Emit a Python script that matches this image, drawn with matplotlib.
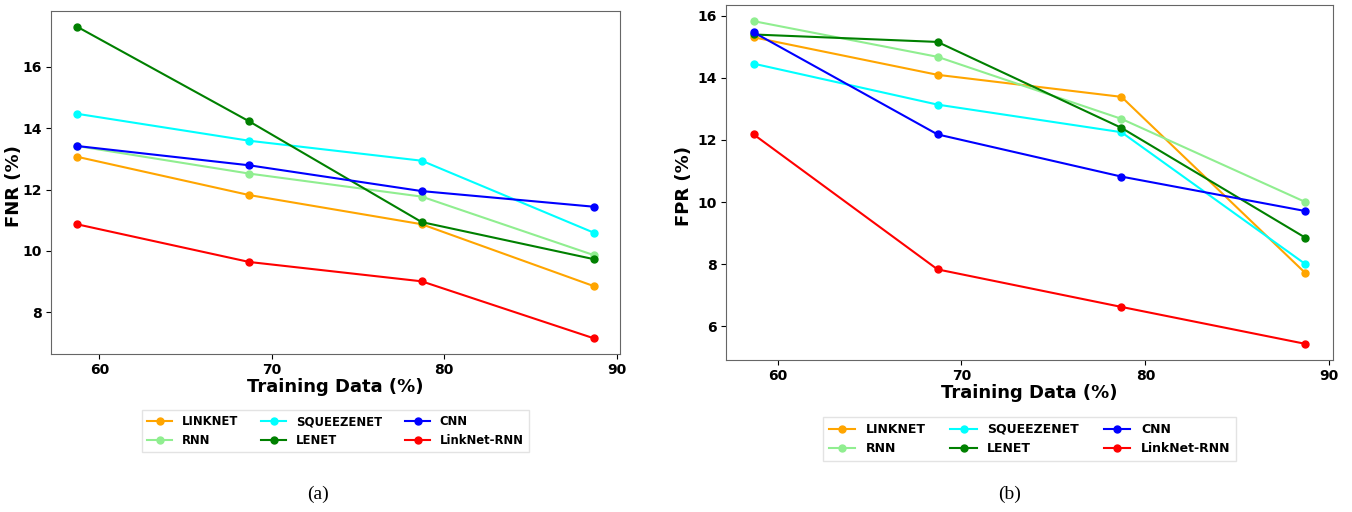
import matplotlib
matplotlib.use("Agg")
import matplotlib.pyplot as plt
from matplotlib.transforms import blended_transform_factory

W, H = 1352, 512

# training data share (%)
train_pct = [58.7, 68.7, 78.7, 88.7]
models = ["LINKNET", "RNN", "SQUEEZENET", "LENET", "CNN", "LinkNet-RNN"]
colors = ["orange", "lightgreen", "cyan", "green", "blue", "red"]

# (a) FNR
fnr_linknet = [13.07, 11.82, 10.87, 8.85]
fnr_rnn = [13.42, 12.52, 11.77, 9.86]
fnr_squeezenet = [14.47, 13.59, 12.94, 10.59]
fnr_lenet = [17.31, 14.22, 10.94, 9.73]
fnr_cnn = [13.42, 12.79, 11.95, 11.44]
fnr_linknet_rnn = [10.87, 9.64, 9.01, 7.15]

# (b) FPR
fpr_linknet = [15.31, 14.10, 13.39, 7.71]
fpr_rnn = [15.83, 14.68, 12.68, 10.00]
fpr_squeezenet = [14.46, 13.14, 12.25, 8.00]
fpr_lenet = [15.40, 15.16, 12.39, 8.85]
fpr_cnn = [15.47, 12.18, 10.82, 9.71]
fpr_linknet_rnn = [12.18, 7.83, 6.62, 5.43]

fnr = [fnr_linknet, fnr_rnn, fnr_squeezenet, fnr_lenet, fnr_cnn, fnr_linknet_rnn]
fpr = [fpr_linknet, fpr_rnn, fpr_squeezenet, fpr_lenet, fpr_cnn, fpr_linknet_rnn]


def box(l, t, r, b):
    return [l / W, 1 - b / H, (r - l) / W, (b - t) / H]


fig = plt.figure(figsize=(W / 100, H / 100), dpi=100)
ax1 = fig.add_axes(box(51, 11, 620, 354))
ax2 = fig.add_axes(box(726, 5, 1333, 360))


def draw(ax, series, ylabel, leg_y, ylab_x, leg_size):
    for name, c, vals in zip(models, colors, series):
        ax.plot(train_pct, vals, color=c, marker="o", markersize=5, linewidth=1.5, label=name)
    ax.set_xticks([60, 70, 80, 90])
    ax.tick_params(labelsize=10, pad=3, length=3.5)
    ax.set_xlabel("Training Data (%)", fontsize=13, fontweight="bold", labelpad=1)
    ax.set_ylabel(ylabel, fontsize=13, fontweight="bold")
    pos = ax.get_position()
    ax.yaxis.set_label_coords((ylab_x - pos.x0 * W) / (pos.width * W), 0.49)
    for lbl in ax.get_xticklabels() + ax.get_yticklabels():
        lbl.set_fontweight("bold")
    for s in ax.spines.values():
        s.set_color("#666666")
    # legend centred under the axes, vertical position in figure pixels
    trans = blended_transform_factory(ax.transAxes, fig.transFigure)
    leg = ax.legend(ncol=3, loc="center", bbox_to_anchor=(0.5, 1 - leg_y / H),
                    bbox_transform=trans, prop={"weight": "bold", "size": leg_size},
                    handlelength=2.1, handletextpad=0.85, columnspacing=2.0,
                    labelspacing=0.5, borderpad=0.45, fancybox=False)
    leg.get_frame().set_edgecolor("#dddddd")


draw(ax1, fnr, "FNR (%)", 431, 23, 8.4)
draw(ax2, fpr, "FPR (%)", 439, 693, 9.0)

fig.text(318 / W, 1 - 494 / H, "(a)", ha="center", va="center", fontsize=14, family="Liberation Serif")
fig.text(1010 / W, 1 - 494 / H, "(b)", ha="center", va="center", fontsize=14, family="Liberation Serif")

fig.savefig("out.png", dpi=100)
